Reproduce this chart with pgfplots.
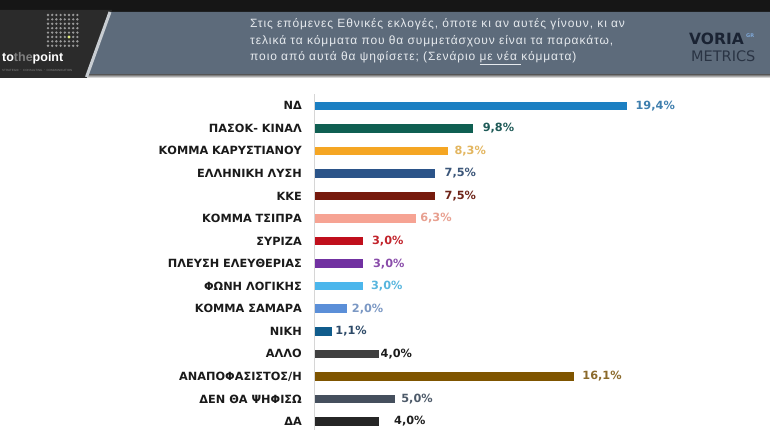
\documentclass[border=0pt]{standalone}
\usepackage{pgfplots}
\pgfplotsset{compat=1.18}
\usepackage{fontspec}
\setmainfont{DejaVu Sans}
\newfontfamily\hdrfont[LetterSpace=7.5]{Liberation Sans}
\newfontfamily\logofont{Liberation Sans}
\definecolor{topblack}{HTML}{161616}
\definecolor{logodark}{HTML}{2B2B2B}
\definecolor{hdrgray}{HTML}{5D6B7B}
\definecolor{hdrtext}{HTML}{E6EAEE}
\definecolor{slant}{HTML}{C8CDD2}
\definecolor{shade}{HTML}{E4E6E8}
\definecolor{voria}{HTML}{1A2333}
\definecolor{metrics}{HTML}{2A3444}
\definecolor{grblue}{HTML}{7FA8D8}
\definecolor{dotgray}{HTML}{9A9A9A}
\definecolor{dotyel}{HTML}{E4F07A}
\definecolor{lbltext}{HTML}{1A1A1A}
\definecolor{axline}{HTML}{D6D6D6}
\definecolor{bA}{HTML}{1B7FC2}\definecolor{tA}{HTML}{3F7FAE}
\definecolor{bB}{HTML}{0F5F52}\definecolor{tB}{HTML}{1E5A57}
\definecolor{bC}{HTML}{F5A623}\definecolor{tC}{HTML}{E3B660}
\definecolor{bD}{HTML}{2B5489}\definecolor{tD}{HTML}{3B5679}
\definecolor{bE}{HTML}{761A0D}\definecolor{tE}{HTML}{6E2418}
\definecolor{bF}{HTML}{F6A393}\definecolor{tF}{HTML}{E8A090}
\definecolor{bG}{HTML}{C00F1C}\definecolor{tG}{HTML}{C2242C}
\definecolor{bH}{HTML}{7131A1}\definecolor{tH}{HTML}{8A4DAA}
\definecolor{bI}{HTML}{4BB6EC}\definecolor{tI}{HTML}{58B6DE}
\definecolor{bJ}{HTML}{5B8FD8}\definecolor{tJ}{HTML}{7B98C4}
\definecolor{bK}{HTML}{105C8C}\definecolor{tK}{HTML}{2D4A68}
\definecolor{bL}{HTML}{404040}\definecolor{tL}{HTML}{1A1A1A}
\definecolor{bM}{HTML}{7F5500}\definecolor{tM}{HTML}{8B6A2B}
\definecolor{bN}{HTML}{454F5D}\definecolor{tN}{HTML}{4D5A69}
\definecolor{bO}{HTML}{262626}\definecolor{tO}{HTML}{1F1F1F}
\newcommand\pb[6]{\addplot[fill=#1,draw=none,nodes near coords={#5},
  every node near coord/.append style={text=#2,xshift=#6pt}] coordinates {(#4,#3)};}
\begin{document}
\begin{tikzpicture}[x=1pt,y=1pt]
\useasboundingbox (0,0) rectangle (770,430);
\clip (0,0) rectangle (770,430);
\fill[white] (0,0) rectangle (770,430);
% header
\fill[topblack] (0,418) rectangle (770,430);
\fill[logodark] (0,352) -- (0,420) -- (112,420) -- (89,352) -- cycle;
\fill[hdrgray] (110,418) -- (770,418) -- (770,355) -- (87,355) -- cycle;
\fill[shade] (87,352) rectangle (770,355);
\draw[slant, line width=3pt] (110,418) -- (86.5,353);
\foreach \i in {0,...,7}{\foreach \j in {0,...,7}{
  \fill[dotgray] (48+4.2*\i, 415-4.4*\j) circle (1.3);}}
\fill[dotyel] (69,393) circle (1.6);
\node[anchor=base west, inner sep=0pt, font=\logofont\fontsize{12.5}{12.5}\selectfont\bfseries]
  at (2,368) {\textcolor{white}{to}\textcolor{gray}{the}\textcolor{white}{point}};
\node[anchor=base west, inner sep=0pt, text=gray, font=\logofont\fontsize{3}{3}\selectfont]
  at (2,358) {STRATEGIC $\cdot$ CONSULTING $\cdot$ COMMUNICATION};
\node[anchor=west, inner sep=0pt, align=left, text=hdrtext,
  font=\hdrfont\fontsize{12}{16.5}\selectfont] at (250,388.3)
  {Στις επόμενες Εθνικές εκλογές, όποτε κι αν αυτές γίνουν, κι αν\\
   τελικά τα κόμματα που θα συμμετάσχουν είναι τα παρακάτω,\\
   ποιο από αυτά θα ψηφίσετε; (Σενάριο \underline{με νέα }κόμματα)};
\node[anchor=base west, inner sep=0pt, text=voria, font=\fontsize{15.5}{15.5}\selectfont\bfseries]
  at (689,385) {VORIA};
\node[anchor=base west, inner sep=0pt, text=grblue, font=\fontsize{5}{5}\selectfont\bfseries]
  at (746,392) {GR};
\node[anchor=base west, inner sep=0pt, text=metrics, font=\fontsize{14.5}{15}\selectfont]
  at (691,368) {METRICS};
\begin{axis}[
  at={(314.5pt,335.5pt)}, anchor=north west,
  scale only axis, width=387.1pt, height=338.25pt,
  xmin=0, xmax=24, ymin=-0.5, ymax=14.5, y dir=reverse,
  xbar, bar width=8.5pt, bar shift=0pt,
  axis x line=none, axis y line=left,
  y axis line style={-, draw=axline, line width=0.8pt},
  ytick={0,...,14}, major tick length=0pt,
  yticklabels={ΝΔ, ΠΑΣΟΚ- ΚΙΝΑΛ, ΚΟΜΜΑ ΚΑΡΥΣΤΙΑΝΟΥ, ΕΛΛΗΝΙΚΗ ΛΥΣΗ, ΚΚΕ, ΚΟΜΜΑ ΤΣΙΠΡΑ, ΣΥΡΙΖΑ, ΠΛΕΥΣΗ ΕΛΕΥΘΕΡΙΑΣ, ΦΩΝΗ ΛΟΓΙΚΗΣ, ΚΟΜΜΑ ΣΑΜΑΡΑ, ΝΙΚΗ, ΑΛΛΟ, ΑΝΑΠΟΦΑΣΙΣΤΟΣ/Η, ΔΕΝ ΘΑ ΨΗΦΙΣΩ, ΔΑ},
  yticklabel style={font=\fontsize{11.3}{12}\selectfont\bfseries, text=lbltext, inner sep=0pt, anchor=east, xshift=-12.5pt},
  every node near coord/.append style={font=\fontsize{11.3}{12}\selectfont\bfseries, inner sep=0pt, anchor=west},
  clip=false,
]
\pb{bA}{tA}{0}{19.4}{19,4\%}{8}
\pb{bB}{tB}{1}{9.8}{9,8\%}{10}
\pb{bC}{tC}{2}{8.3}{8,3\%}{6}
\pb{bD}{tD}{3}{7.5}{7,5\%}{9}
\pb{bE}{tE}{4}{7.5}{7,5\%}{9}
\pb{bF}{tF}{5}{6.3}{6,3\%}{4}
\pb{bG}{tG}{6}{3.0}{3,0\%}{9}
\pb{bH}{tH}{7}{3.0}{3,0\%}{10}
\pb{bI}{tI}{8}{3.0}{3,0\%}{8}
\pb{bJ}{tJ}{9}{2.0}{2,0\%}{5}
\pb{bK}{tK}{10}{1.1}{1,1\%}{3}
\pb{bL}{tL}{11}{4.0}{4,0\%}{1.5}
\pb{bM}{tM}{12}{16.1}{16,1\%}{8}
\pb{bN}{tN}{13}{5.0}{5,0\%}{6}
\pb{bO}{tO}{14}{4.0}{4,0\%}{15}
\end{axis}
\end{tikzpicture}
\end{document}
